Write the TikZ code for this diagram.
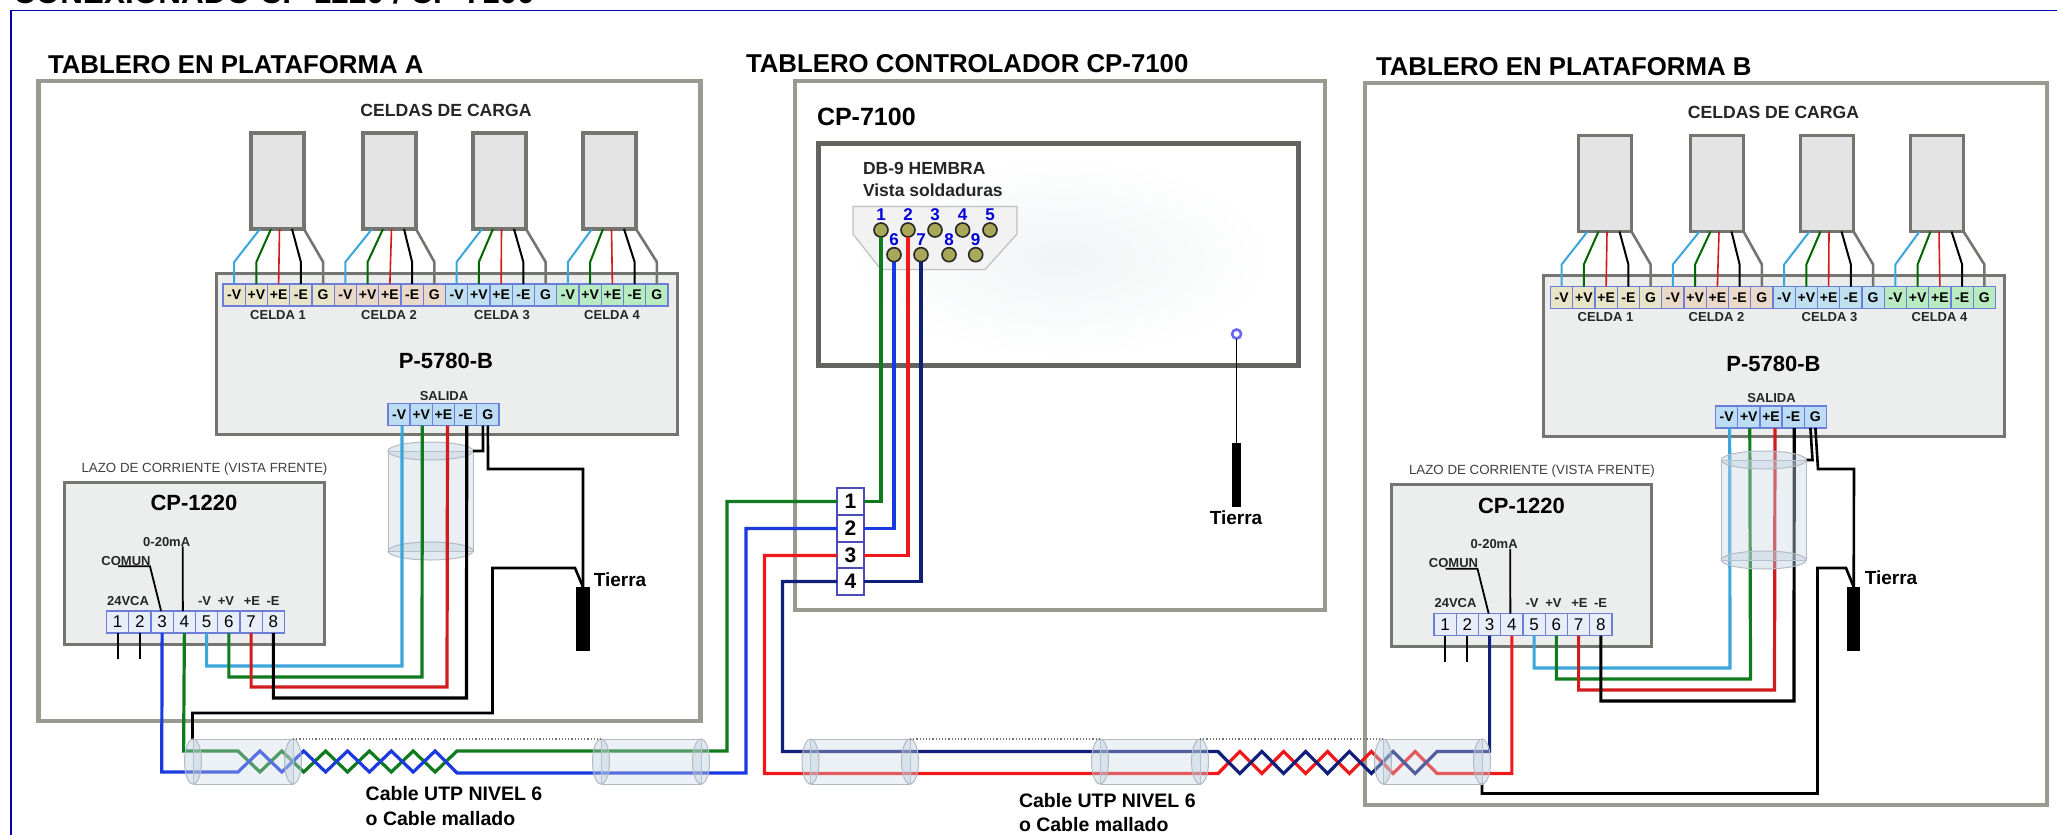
\documentclass[tikz,border=0pt]{standalone}
\usepackage{fontspec}
\setmainfont{Liberation Sans}
\newcommand\fsz[1]{\fontsize{#1}{#1}\selectfont}
\definecolor{panelgray}{HTML}{9A9A90}
\definecolor{boxgray}{HTML}{757570}
\definecolor{boxfill}{HTML}{ECEEEE}
\definecolor{cellfill}{HTML}{E4E4E4}
\definecolor{termblue}{HTML}{6C7ED8}
\definecolor{numfill}{HTML}{E8EEF8}
\definecolor{cellA}{HTML}{E8E4C8}
\definecolor{cellB}{HTML}{EAD8C8}
\definecolor{cellC}{HTML}{C0E0F0}
\definecolor{cellD}{HTML}{B8ECC0}
\definecolor{outfill}{HTML}{BCDCF4}
\definecolor{wcy}{HTML}{3AA6DC}
\definecolor{wgr}{HTML}{0F7A1E}
\definecolor{wre}{HTML}{D01C1C}
\definecolor{wbl}{HTML}{1A3AE0}
\definecolor{wrd}{HTML}{F01818}
\definecolor{wna}{HTML}{101F7A}
\definecolor{cylline}{HTML}{B4BAC4}
\definecolor{cylbody}{HTML}{CBD8E4}
\definecolor{cylcap}{HTML}{B8CCDC}
\definecolor{pinfill}{HTML}{A8A858}
\definecolor{blob}{HTML}{F1F4F5}
\tikzset{
  x=1pt,y=-1pt,
  every node/.style={inner sep=0pt,outer sep=0pt},
  panel/.style={draw=panelgray,line width=4.5pt,fill=white,anchor=north west},
  devbox/.style={draw=boxgray,line width=3pt,fill=boxfill,anchor=north west},
  loadcell/.style={draw=boxgray,line width=3.2pt,fill=cellfill,anchor=north west,minimum width=53pt,minimum height=96pt},
  term/.style={draw=termblue,line width=1.4pt,minimum width=22.25pt,minimum height=22pt,font=\fsz{14}\bfseries},
  numterm/.style={draw=termblue,line width=1.2pt,fill=numfill,minimum width=22.25pt,minimum height=22pt,font=\fsz{17}},
  blockterm/.style={draw=blue!60!black!70,line width=1.6pt,fill=white,minimum width=27pt,minimum height=27pt,font=\fsz{21}\bfseries},
  title/.style={anchor=base west,font=\fsz{25.8}\bfseries},
  lab/.style={font=\fsz{13}\bfseries,text=black!85},
  gnd/.style={fill=black,anchor=north},
  pin/.style={circle,draw=black!85,line width=1.6pt,fill=pinfill,minimum size=14pt},
  pinlab/.style={font=\fsz{17}\bfseries,text=blue!85!black},
  wire/.style={line width=3.2pt},
  thinw/.style={line width=2pt},
}
% board with P-5780-B, load cells and CP-1220
\newcommand\Board[3]{%
\begin{scope}[shift={(#2,#3)},name prefix=#1-]
  \node[devbox,minimum width=461pt,minimum height=161pt] (pbox) at (216,273) {};
  \foreach \n/\cl in {0/251,1/363,2/473,3/583}{
    \node[loadcell] (cell\n) at (\cl,133) {};
  }
  \foreach \n/\col in {0/cellA,1/cellB,2/cellC,3/cellD}{
    \foreach \lb [count=\k from 0] in {-V,+V,+E,-E,G}{
      \pgfmathsetmacro\xx{223+(\n*5+\k+0.5)*22.25}
      \node[term,fill=\col] (c\n-\k) at (\xx,295) {\lb};
    }
    \draw[wcy,line width=2pt] ([xshift=9pt]cell\n.south west) -- ([yshift=22pt]c\n-0.north) -- (c\n-0.north);
    \draw[green!40!black,line width=2pt] ([xshift=20pt]cell\n.south west) -- ([yshift=22pt]c\n-1.north) -- (c\n-1.north);
    \draw[wre,line width=1.6pt] ([xshift=28.5pt]cell\n.south west) -- (c\n-2.north);
    \draw[black,line width=2pt] ([xshift=41pt]cell\n.south west) -- ([yshift=22pt]c\n-3.north) -- (c\n-3.north);
    \draw[boxgray,line width=2.6pt] ([xshift=53pt]cell\n.south west) -- ([yshift=22pt]c\n-4.north) -- (c\n-4.north);
  }
  \node[lab,font=\fsz{17.6}\bfseries] (cap) at (446,110) {CELDAS DE CARGA};
  \foreach \n/\xx in {1/278,2/389,3/502,4/612}{
    \node[lab] (celda\n) at (\xx,315) {CELDA \n};
  }
  \node[font=\fsz{22}\bfseries] (pname) at (446,361) {P-5780-B};
  \node[lab,font=\fsz{13}\bfseries] (salida) at (444,396) {SALIDA};
  \foreach \lb [count=\k from 1] in {-V,+V,+E,-E,G}{
    \pgfmathsetmacro\xx{388+(\k-0.5)*22.2}
    \node[term,fill=outfill] (s\k) at (\xx,414.5) {\lb};
  }
  % CP-1220
  \node[devbox,minimum width=260pt,minimum height=162pt] (cpbox) at (64,482) {};
  \node[font=\fsz{13.3},text=black!75] (lazo) at (204.5,469) {LAZO DE CORRIENTE (VISTA FRENTE)};
  \node[font=\fsz{22}\bfseries] (cpname) at (194,503) {CP-1220};
  \foreach \k in {1,...,8}{
    \pgfmathsetmacro\xx{106.5+(\k-0.5)*22.25}
    \node[numterm] (t\k) at (\xx,622) {\k};
  }
  \node[lab] (vca) at (128,601) {24VCA};
  \node[lab] (lv1) at (204.5,601) {-V};
  \node[lab] (lv2) at (226,601) {+V};
  \node[lab] (le1) at (252,601) {+E};
  \node[lab] (le2) at (273,601) {-E};
  \node[lab] (ma) at (166.7,541.7) {0-20mA};
  \node[lab] (comun) at (126,560.7) {COMUN};
  \draw[black,line width=1.8pt] ([xshift=16pt]ma.south) -- ([xshift=-1.5pt]t4.north);
  \draw[black,line width=1.8pt] ([xshift=-8pt,yshift=-1pt]comun.south) -- ([xshift=24pt,yshift=-1pt]comun.south) -- ([xshift=-1pt]t3.north);
  \draw[black,line width=1.8pt] (t1.south) -- ++(0,26);
  \draw[black,line width=1.8pt] (t2.south) -- ++(0,26);
\end{scope}}
% horizontal cable sleeve
\newcommand\HCyl[3]{%
  \path[fill=cylbody,fill opacity=.35,draw=cylline,line width=1pt] (#2,739) -- (#3,739) -- (#3,784) -- (#2,784) -- cycle;
  \node[ellipse,draw=cylline,fill=cylcap,fill opacity=.4,line width=1pt,minimum width=17pt,minimum height=45pt] (#1l) at (#2,761.5) {};
  \node[ellipse,draw=cylline,fill=cylcap,fill opacity=.4,line width=1pt,minimum width=17pt,minimum height=45pt] (#1r) at (#3,761.5) {};
}
% vertical shield
\newcommand\VCyl[5]{%
  \path[fill=cylbody,fill opacity=#5,draw=cylline,line width=1pt] (#2,#4) -- (#3,#4) -- (#3,#4+100) -- (#2,#4+100) -- cycle;
  \node[ellipse,draw=cylline,fill=cylcap,fill opacity=#5,line width=1pt,minimum width=85pt,minimum height=18pt] (#1t) at ({(#2+#3)/2},#4) {};
  \node[ellipse,draw=cylline,fill=cylcap,fill opacity=#5,line width=1pt,minimum width=85pt,minimum height=18pt] (#1b) at ({(#2+#3)/2},#4+100) {};
}
\usetikzlibrary{shapes.geometric}
\begin{document}
\begin{tikzpicture}
\useasboundingbox (0,0) rectangle (2057,835);
\clip (0,0) rectangle (2057,835);
\fill[white] (0,0) rectangle (2057,835);
% title and frame
\node[anchor=base west,font=\fsz{31.5}\bfseries] (maintitle) at (13,3) {CONEXIONADO CP-1220 / CP-7100};
\draw[blue!70!black,line width=1.6pt] (11,845) -- (11,10.5) -- (2067,10.5);
% panels
\node[panel,minimum width=662pt,minimum height=640pt] (panelA) at (38.5,81) {};
\node[panel,minimum width=682pt,minimum height=722pt] (panelB) at (1365,83) {};
\node[panel,minimum width=530pt,minimum height=529pt] (panelC) at (795,81) {};
\node[title] (titleA) at (48,73) {TABLERO EN PLATAFORMA A};
\node[title] (titleC) at (746,72.5) {TABLERO CONTROLADOR CP-7100};
\node[title] (titleB) at (1376,75) {TABLERO EN PLATAFORMA B};
% controller
\node[anchor=base west,font=\fsz{25}\bfseries] (cpc) at (817,125) {CP-7100};
\node[draw=boxgray!85!black,line width=5pt,fill=white,anchor=north west,minimum width=480.5pt,minimum height=222pt] (ctrl) at (818,143) {};
\shade[inner color=blob,outer color=white] (1062,258) ellipse [x radius=212,y radius=100];
\node[anchor=west,font=\fsz{17.5}\bfseries,text=black!85] (db1) at (863,168) {DB-9 HEMBRA};
\node[anchor=west,font=\fsz{17.5}\bfseries,text=black!85] (db2) at (863,190) {Vista soldaduras};
\draw[fill=black!5,draw=black!25,line width=1.2pt] (853,206.5) -- (1017,206.5) -- (1017,234) -- (985,269.6) -- (881,269.6) -- (853,234) -- cycle;
\foreach \n/\xx in {1/881,2/908,3/935,4/962.6,5/990}{
  \node[pin] (P\n) at (\xx,230) {};
  \node[pinlab] (PL\n) at (\xx,215) {\n};
}
\foreach \n/\xx in {6/894,7/921,8/949,9/975.7}{
  \node[pin] (P\n) at (\xx,254.7) {};
  \node[pinlab] (PL\n) at (\xx,240) {\n};
}
\node[circle,draw=blue!60!white,line width=2.6pt,fill=white,minimum size=9pt] (eye) at (1236.6,334) {};
\node[gnd,minimum width=9pt,minimum height=64.4pt] (rodC) at (1236.6,442.6) {};
\draw[black,line width=1.4pt] (eye.south) -- (rodC.north);
\node[font=\fsz{19}\bfseries] (tierraC) at (1236,518) {Tierra};
% boards
\VCyl{shA}{388}{473}{451}{.4}
\Board{A}{0}{0}
\Board{B}{1327.5}{2.5}
% terminal block
\node[blockterm] (K1) at (850.5,501.5) {1};
\node[blockterm] (K2) at (850.5,528.5) {2};
\node[blockterm] (K3) at (850.5,555.5) {3};
\node[blockterm] (K4) at (850.5,581.5) {4};
% ground A
\node[gnd,minimum width=14pt,minimum height=64pt] (rodA) at (583,587) {};
\node[font=\fsz{19}\bfseries] (tierraA) at (620,580) {Tierra};
% ground B
\node[gnd,minimum width=13pt,minimum height=64pt] (rodB) at (1853.7,587) {};
\node[font=\fsz{19}\bfseries] (tierraB) at (1891,578) {Tierra};
% wires board A
\draw[wcy,wire] ([xshift=3pt]A-s1.south) -- (402,666) -| (A-t5.south);
\draw[wgr,wire] ([xshift=1pt]A-s2.south) -- (422,677) -| (A-t6.south);
\draw[wre,wire] ([xshift=4pt]A-s3.south) -- (447,687) -| (A-t7.south);
\draw[black,wire] ([xshift=1pt]A-s4.south) -- (466.5,698) -| (A-t8.south);
\draw[black,line width=2.6pt] ([xshift=-5pt]A-s5.south) -- (483,451) -- (473,451);
\draw[black,line width=2.6pt] (A-s5.south) -- (488,469) -- (583,469) -- (rodA.north);
\coordinate (shieldA) at (192.5,740);
\draw[black,line width=2.6pt] (shieldA) -- (192.5,713) -- (492.5,713) -- (492.5,568) -- (575,568) -- (rodA.north);
% wires board B
\draw[wcy,wire] ([xshift=3pt]B-s1.south) -- (1730,668) -| (B-t5.south);
\draw[wgr,wire] ([xshift=1pt]B-s2.south) -- (1750.5,679) -| (B-t6.south);
\draw[wre,wire] ([xshift=4pt]B-s3.south) -- (1774.5,690) -| (B-t7.south);
\draw[black,wire] ([xshift=1pt]B-s4.south) -- (1794,701) -| (B-t8.south);
\draw[black,line width=2.6pt] ([xshift=-5pt]B-s5.south) -- (1812.5,460) -- (1806,460);
\draw[black,line width=2.6pt] (B-s5.south) -- (1818,469) -- (1854,469) -- (rodB.north);
\coordinate (shieldB) at (1482,783);
\draw[black,line width=2.6pt] (shieldB) -- (1482,793.5) -- (1817.5,793.5) -- (1817.5,568) -- (1846,568) -- (rodB.north);
\VCyl{shB}{1721.5}{1806}{460}{.4}
% cable A
\draw[wgr,wire] (K1.west) -- (727,501.5) -- (727,751) -- (457,751) -- (435.1,772) -- (413.2,751) -- (391.3,772) -- (369.4,751) -- (347.5,772) -- (325.6,751) -- (303.7,772) -- (281.8,751) -- (259.9,772) -- (238,751) -- (183.6,751) -- (A-t4.south);
\draw[wbl,wire] (K2.west) -- (746,528.5) -- (746,773) -- (457,773) -- (435.1,751) -- (413.2,772) -- (391.3,751) -- (369.4,772) -- (347.5,751) -- (325.6,772) -- (303.7,751) -- (281.8,772) -- (259.9,751) -- (238,772) -- (161.7,772) -- (A-t3.south);
% cable B
\draw[wrd,wire] (K3.west) -- (764.5,555.5) -- (764.5,773.5) -- (1218,773.5) -- (1239.9,751.5) -- (1261.8,773.5) -- (1283.7,751.5) -- (1305.6,773.5) -- (1327.5,751.5) -- (1349.4,773.5) -- (1371.3,751.5) -- (1393.2,773.5) -- (1415.1,751.5) -- (1437,773.5) -| (B-t4.south);
\draw[wna,wire] (K4.west) -- (782.5,581.5) -- (782.5,751.5) -- (1218,751.5) -- (1239.9,773.5) -- (1261.8,751.5) -- (1283.7,773.5) -- (1305.6,751.5) -- (1327.5,773.5) -- (1349.4,751.5) -- (1371.3,773.5) -- (1393.2,751.5) -- (1415.1,773.5) -- (1437,751.5) -| (B-t3.south);
% controller side of wires
\draw[wgr,wire] (P1.south) |- (K1.east);
\draw[wbl,wire] (P6.south) |- (K2.east);
\draw[wrd,wire] (P2.south) |- (K3.east);
\draw[wna,wire] (P7.south) |- (K4.east);
% sleeves
\HCyl{c1}{193}{293}
\HCyl{c2}{601}{701}
\HCyl{c3}{810.5}{910}
\HCyl{c4}{1100}{1200}
\HCyl{c5}{1383}{1482}
\draw[black!55,dotted,line width=1.2pt] (c1r.north) -- (c2l.north);
\draw[black!55,dotted,line width=1.2pt] (c3r.north) -- (c4l.north);
\draw[black!55,dotted,line width=1.2pt] (c4r.north) -- (c5l.north);
% cable labels
\node[anchor=base west,font=\fsz{19.5}\bfseries] (ca1) at (365.7,800) {Cable UTP NIVEL 6};
\node[anchor=base west,font=\fsz{19.5}\bfseries] (ca2) at (365.7,825) {o Cable mallado};
\node[anchor=base west,font=\fsz{19.5}\bfseries] (cb1) at (1019,807) {Cable UTP NIVEL 6};
\node[anchor=base west,font=\fsz{19.5}\bfseries] (cb2) at (1019,831) {o Cable mallado};
\end{tikzpicture}
\end{document}
